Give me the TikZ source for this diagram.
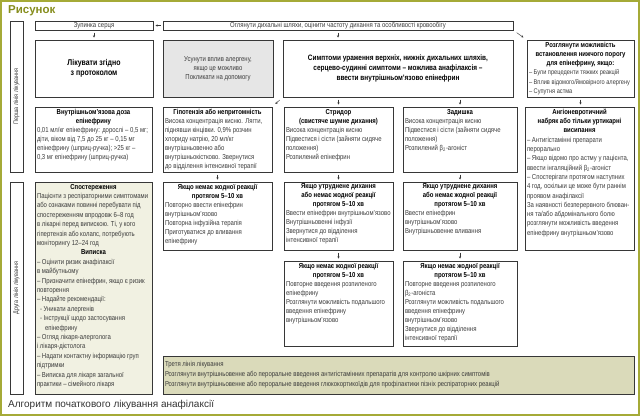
\documentclass[tikz,border=0pt]{standalone}
\usepackage{fontspec}
\setmainfont{Liberation Sans}[FakeStretch=0.83]
\newfontfamily\capfont{Liberation Sans}
\usetikzlibrary{arrows.meta}
\definecolor{olv}{RGB}{165,170,55}
\definecolor{olvt}{RGB}{135,142,30}
\definecolor{boxc}{RGB}{55,55,55}
\definecolor{txt}{RGB}{60,60,60}
\definecolor{grayf}{RGB}{230,230,230}
\definecolor{spof}{RGB}{241,241,226}
\definecolor{tref}{RGB}{218,218,186}
\tikzset{
 bx/.style={draw=boxc, line width=0.6pt, fill=white, inner xsep=2pt, inner ysep=2pt, outer sep=0pt, text=txt},
 sbx/.style={draw=boxc, line width=0.6pt, fill=white, inner sep=0pt, outer sep=0pt, text=txt, font=\fontsize{7.2}{9}\selectfont},
 arr/.style={-{Stealth[length=2.2pt,width=2.2pt]}, line width=0.45pt, draw=boxc, shorten <=2.5pt, shorten >=2.5pt},
 darr/.style={arr, shorten <=4.5pt, shorten >=4.5pt},
}
\newcommand\hd[1]{{\centering\bfseries\color{black}#1\par}}
\newcommand\cell[8]{%
 \pgfmathsetmacro\cw{#4-#2-4}\pgfmathsetmacro\ch{#5-#3-4}%
 \node[bx,#6,anchor=north west] (#1) at (#2,#3) {\parbox[c][\ch pt][#7]{\cw pt}{\fontsize{7.2}{9}\selectfont\raggedright #8}};}
\begin{document}
\begin{tikzpicture}[x=1pt,y=-1pt]
\useasboundingbox (0,0) rectangle (640,416);
\fill[white] (0,0) rectangle (640,416);
\draw[olv, line width=2pt] (1,1) rectangle (639,415);
\node[anchor=west, font=\capfont\bfseries\fontsize{11.5}{12}\selectfont, text=olvt, inner sep=0pt] (title) at (8,10.5) {Рисунок};
\node[anchor=west, font=\capfont\fontsize{10}{11}\selectfont, text=black!80, inner sep=0pt] (cap) at (8,405) {Алгоритм початкового лікування анафілаксії};

% side labels
\node[sbx, rotate=90, minimum width=151pt, minimum height=13pt, font=\fontsize{6.5}{8}\selectfont] (l1) at (16.5,96.5) {Перша лінія лікування};
\node[sbx, rotate=90, minimum width=212pt, minimum height=13pt, font=\fontsize{6.5}{8}\selectfont] (l2) at (16.5,288) {Друга лінія лікування};

% row 1
\node[sbx, anchor=north west, minimum width=118pt, minimum height=9pt] (zup) at (35,21) {Зупинка серця};
\node[sbx, anchor=north west, minimum width=350pt, minimum height=9pt] (ogl) at (163,21) {Оглянути дихальні шляхи, оцінити частоту дихання та особливості кровообігу};

% row 2
\cell{lik}{35}{40}{153}{97}{}{c}{\fontsize{8.4}{10}\selectfont\hd{Лікувати згідно\\з протоколом}}
\cell{usu}{163}{40}{273}{97}{fill=grayf}{c}{{\centering Усунути вплив алергену,\\якщо це можливо\\Покликати на допомогу\par}}
\cell{sym}{283}{40}{513}{97}{}{c}{\fontsize{7.8}{9.6}\selectfont\hd{Симптоми ураження верхніх, нижніх дихальних шляхів,\\серцево-судинні симптоми – можлива анафілаксія –\\ввести внутрішньом’язово епінефрин}}
\cell{roz}{527}{40}{634}{97}{}{t}{\fontsize{7.2}{9.2}\selectfont\hd{Розглянути можливість\\встановлення нижчого порогу\\для епінефрину, якщо:}\fontsize{6.8}{9.2}\selectfont – Були прецеденти тяжких реакцій\\– Вплив відомого/ймовірного алергену\\– Супутня астма}

% row 3
\cell{vnu}{35}{107}{152}{172}{}{t}{\hd{Внутрішньом’язова доза\\епінефрину}0,01 мл/кг епінефрину: дорослі – 0,5 мг;\\діти, віком від 7,5 до 25 кг – 0,15 мг\\епінефрину (шприц-ручка); >25 кг –\\0,3 мг епінефрину (шприц-ручка)}
\cell{hyp}{163}{107}{272}{172}{}{t}{\hd{Гіпотензія або непритомність}Висока концентрація кисню. Лягти,\\піднявши кінцівки. 0,9\% розчин\\хлориду натрію, 20 мл/кг\\внутрішньовенно або\\внутрішньокістково. Звернутися\\до відділення інтенсивної терапії}
\cell{str}{284}{107}{393}{172}{}{t}{\hd{Стридор\\(свистяче шумне дихання)}Висока концентрація кисню\\Підвестися і сісти (зайняти сидяче\\положення)\\Розпилений епінефрин}
\cell{zad}{403}{107}{517}{172}{}{t}{\hd{Задишка}Висока концентрація кисню\\Підвестися і сісти (зайняти сидяче\\положення)\\Розпилений β\textsubscript{2}-агоніст}
\cell{ang}{525}{107}{634}{250}{}{t}{\fontsize{7.2}{9.3}\selectfont\hd{Ангіоневротичний\\набряк або тільки уртикарні\\висипання}– Антигістамінні препарати\\перорально\\– Якщо відомо про астму у пацієнта,\\ввести інгаляційний β\textsubscript{2}-агоніст\\– Спостерігати протягом наступних\\4 год, оскільки це може бути раннім\\проявом анафілаксії\\За наявності безперервного блюван-\\ня та/або абдомінального болю\\розглянути можливість введення\\епінефрину внутрішньом’язово}

% row 4
\cell{spo}{35}{182}{152}{394}{fill=spof}{t}{\fontsize{7.2}{9.4}\selectfont\hd{Спостереження}Пацієнти з респіраторними симптомами\\або ознаками повинні перебувати під\\спостереженням впродовж 6–8 год\\в лікарні перед випискою. Ті, у кого\\гіпертензія або колапс, потребують\\моніторингу 12–24 год\par\hd{Виписка}– Оцінити ризик анафілаксії\\в майбутньому\\– Призначити епінефрин, якщо є ризик\\повторення\\– Надайте рекомендації:\\\hspace*{3pt}- Уникати алергенів\\\hspace*{3pt}- Інструкції щодо застосування\\\hspace*{8pt}епінефрину\\– Огляд лікаря-алерголога\\і лікаря-дієтолога\\– Надати контактну інформацію груп\\підтримки\\– Виписка для лікаря загальної\\практики – сімейного лікаря}
\cell{r4b}{163}{182}{272}{250}{}{t}{\hd{Якщо немає жодної реакції\\протягом 5–10 хв}Повторно ввести епінефрин\\внутрішньом’язово\\Повторна інфузійна терапія\\Приготуватися до вливання\\епінефрину}
\cell{r4c}{284}{182}{393}{250}{}{t}{\hd{Якщо утруднене дихання\\або немає жодної реакції\\протягом 5–10 хв}Ввести епінефрин внутрішньом’язово\\Внутрішньовенні інфузії\\Звернутися до відділення\\інтенсивної терапії}
\cell{r4d}{403}{182}{517}{250}{}{t}{\hd{Якщо утруднене дихання\\або немає жодної реакції\\протягом 5–10 хв}Ввести епінефрин\\внутрішньом’язово\\Внутрішньовенне вливання}

% row 5
\cell{r5c}{284}{261}{393}{346}{}{t}{\hd{Якщо немає жодної реакції\\протягом 5–10 хв}Повторне введення розпиленого\\епінефрину\\Розглянути можливість подальшого\\введення епінефрину\\внутрішньом’язово}
\cell{r5d}{403}{261}{517}{346}{}{t}{\hd{Якщо немає жодної реакції\\протягом 5–10 хв}Повторне введення розпиленого\\β\textsubscript{2}-агоніста\\Розглянути можливість подальшого\\введення епінефрину\\внутрішньом’язово\\Звернутися до відділення\\інтенсивної терапії}

% third line
\cell{tre}{163}{356}{634}{394}{fill=tref}{c}{\fontsize{7.2}{10}\selectfont Третя лінія лікування\\Розглянути внутрішньовенне або пероральне введення антигістамінних препаратів для контролю шкірних симптомів\\Розглянути внутрішньовенне або пероральне введення глюкокортикоїдів для профілактики пізніх респіраторних реакцій}

% arrows
\draw[arr] (ogl.west) -- (zup.east);
\draw[arr] (zup.south) -- (zup.south |- lik.north);
\draw[arr] (ogl.south) -- (ogl.south |- sym.north);
\draw[darr] (ogl.south east) -- (roz.north west);
\draw[darr] (sym.south west) -- (hyp.north east);
\draw[arr] (sym.south -| str.north) -- (str.north);
\draw[arr] (sym.south -| zad.north) -- (zad.north);
\draw[arr] (roz.south) -- (roz.south |- ang.north);
\draw[arr] (hyp.south) -- (r4b.north);
\draw[arr] (str.south) -- (r4c.north);
\draw[arr] (zad.south) -- (r4d.north);
\draw[arr] (r4c.south) -- (r5c.north);
\draw[arr] (r4d.south) -- (r5d.north);
\end{tikzpicture}
\end{document}
